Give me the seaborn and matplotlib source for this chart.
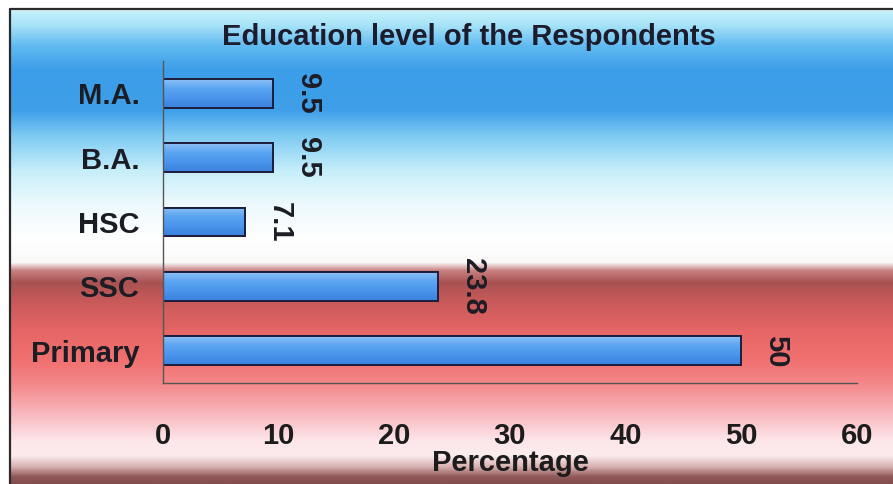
import numpy as np
import pandas as pd
import matplotlib
matplotlib.use("Agg")
import matplotlib.pyplot as plt
from matplotlib.colors import LinearSegmentedColormap, to_rgb
from matplotlib.lines import Line2D
import seaborn as sns

# Data
levels = ["M.A.", "B.A.", "HSC", "SSC", "Primary"]
percentages = [9.5, 9.5, 7.1, 23.8, 50]
value_labels = ["9.5", "9.5", "7.1", "23.8", "50"]
x_ticks = [0, 10, 20, 30, 40, 50, 60]

df = pd.DataFrame({"Level": levels, "Percentage": percentages})

sns.set_theme(style="white")
plt.rcParams["font.family"] = ["Liberation Sans", "DejaVu Sans"]
plt.rcParams["font.weight"] = "bold"

W, H = 893, 484
fig = plt.figure(figsize=(W / 100, H / 100), dpi=100)
fig.patch.set_facecolor("white")

# Vertical background band: sky blue at top, white middle, red to pink below
stops = [
    (0, "#ffffff"), (9, "#ffffff"), (11, "#c4f1fb"), (25, "#a6e2f8"),
    (45, "#62bbf1"), (70, "#3c9de8"), (110, "#3f9fe9"), (135, "#7dcaf3"),
    (170, "#c6eefa"), (205, "#eefafd"), (240, "#ffffff"), (262, "#fbf8f8"),
    (270, "#c98282"), (282, "#a95252"), (300, "#c75959"), (330, "#e66565"),
    (360, "#f17070"), (385, "#f48a8c"), (410, "#f8b2b8"), (440, "#fde6ea"),
    (455, "#fcecee"), (466, "#d9b2b2"), (476, "#925a5a"), (484, "#824a4a"),
]
ys = np.arange(H)
sp = np.array([s[0] for s in stops], dtype=float)
cols = np.array([to_rgb(s[1]) for s in stops])
grad = np.stack([np.interp(ys, sp, cols[:, k]) for k in range(3)], axis=1)
bg_img = np.repeat(grad[:, None, :], 2, axis=1)

bg = fig.add_axes([10 / W, 0, 1 - 10 / W, 1], zorder=0)
bg.imshow(bg_img, aspect="auto", extent=[0, 1, 0, 1], origin="upper",
          interpolation="bilinear")
bg.set_axis_off()

# Chart frame (top and left edges)
fig.add_artist(Line2D([10 / W, 1], [1 - 9 / H, 1 - 9 / H], color="#2a2a2a",
                      lw=1.6, transform=fig.transFigure))
fig.add_artist(Line2D([10 / W, 10 / W], [0, 1 - 9 / H], color="#2a2a2a",
                      lw=1.6, transform=fig.transFigure))

# Plot area
ax = fig.add_axes([163 / W, 1 - 383 / H, (857 - 163) / W, (383 - 61) / H],
                  zorder=1)
ax.patch.set_alpha(0)

sns.barplot(data=df, x="Percentage", y="Level", orient="h", width=0.45,
            color="#4a96ee", edgecolor="#1e1e3c", linewidth=1.4, ax=ax,
            saturation=1)

# Soft vertical shading inside each bar
bar_cmap = LinearSegmentedColormap.from_list(
    "barshade", ["#8cc0f6", "#5aa4f2", "#4a94ec", "#3b80de"])
shade = np.linspace(0, 1, 64)[:, None]
for patch in list(ax.patches):
    x0, y0 = patch.get_x(), patch.get_y()
    w, h = patch.get_width(), patch.get_height()
    im = ax.imshow(shade, cmap=bar_cmap, aspect="auto",
                   extent=[x0, x0 + w, y0 + h, y0], origin="upper",
                   zorder=patch.get_zorder() + 0.1)
    im.set_clip_path(patch)
    edge = plt.Rectangle((x0, y0), w, h, fill=False, edgecolor="#1e1e3c",
                         lw=1.4, zorder=patch.get_zorder() + 0.2)
    ax.add_patch(edge)

ax.set_xlim(0, 60)
ax.set_ylim(4.5, -0.5)
ax.set_xticks(x_ticks)
ax.set_xticklabels([str(t) for t in x_ticks])

# Value labels, rotated, just past the end of each bar
for i, (v, lab) in enumerate(zip(percentages, value_labels)):
    ax.annotate(lab, xy=(v, i), xytext=(15, 0), textcoords="offset points",
                rotation=270, ha="left", va="center", fontsize=21,
                fontweight="bold", color="#1c1c24")

for side in ["top", "right"]:
    ax.spines[side].set_visible(False)
for side in ["left", "bottom"]:
    ax.spines[side].set_color("#555555")
    ax.spines[side].set_linewidth(1.0)

ax.tick_params(axis="x", direction="out", length=4, width=1, color="#555555",
               pad=24, labelsize=21, labelcolor="#1c1c1c")
ax.tick_params(axis="y", length=0, pad=17, labelsize=21, labelcolor="#1c1c24")
for t in ax.get_xticklabels() + ax.get_yticklabels():
    t.set_fontweight("bold")
ax.set_xlabel("")
ax.set_ylabel("")

fig.text(469 / W, 1 - 37 / H, "Education level of the Respondents",
         ha="center", va="center", fontsize=21, fontweight="bold",
         color="#1c1c2c")
fig.text(510 / W, 1 - 463 / H, "Percentage", ha="center", va="center",
         fontsize=21, fontweight="bold", color="#1c1c1c")

fig.savefig("out.png", dpi=100)
